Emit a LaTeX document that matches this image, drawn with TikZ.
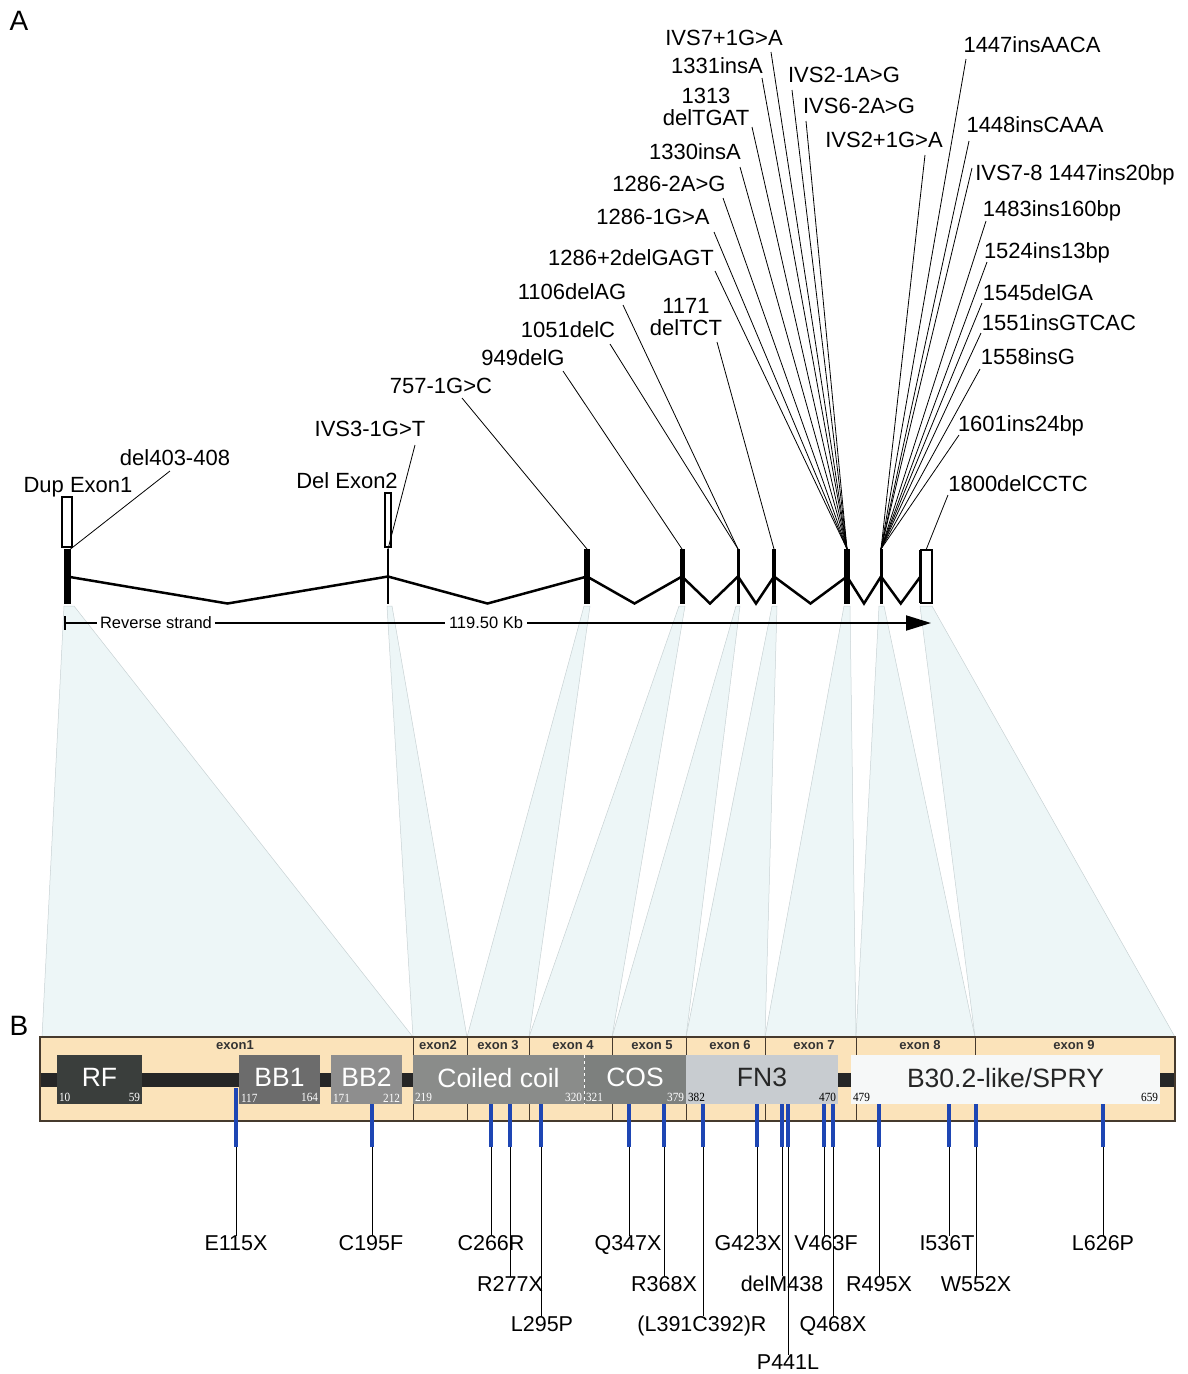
\documentclass[tikz,border=0pt]{standalone}
\usepackage{fontspec}
\setmainfont{Liberation Sans}
\newfontfamily\numfont[FakeStretch=0.9]{Liberation Serif}
\usetikzlibrary{arrows.meta,calc}
\definecolor{peach}{RGB}{251,227,186}
\definecolor{barline}{RGB}{70,58,45}
\definecolor{rfcol}{RGB}{58,62,60}
\definecolor{bbone}{RGB}{108,108,108}
\definecolor{bbtwo}{RGB}{142,142,142}
\definecolor{cccol}{RGB}{138,140,138}
\definecolor{coscol}{RGB}{125,128,126}
\definecolor{fncol}{RGB}{200,204,208}
\definecolor{sprycol}{RGB}{246,248,248}
\definecolor{mutblue}{RGB}{30,70,180}
\definecolor{funfill}{RGB}{237,246,247}
\definecolor{funline}{RGB}{200,210,212}

\begin{document}
\begin{tikzpicture}[x=1pt,y=-1pt,
  every node/.style={inner sep=0pt, outer sep=0pt},
  mut/.style={font=\fontsize{22}{22}\selectfont, align=center, text depth=0pt},
  plab/.style={font=\fontsize{21.5}{22}\selectfont, text depth=0pt},
  leader/.style={line width=0.8pt},
  exon/.style={fill=black, minimum height=55pt},
  openbox/.style={draw, line width=1.2pt, fill=white},
  dom/.style={minimum height=49pt},
  domlab/.style={font=\fontsize{26.5}{27}\selectfont, text depth=0pt, yshift=2pt},
  dnum/.style={font=\numfont\fontsize{12.5}{12}\selectfont},
  exlab/.style={font=\bfseries\fontsize{13}{13}\selectfont},
  funnel/.style={fill=funfill, draw=funline, line width=0.5pt}]
  \useasboundingbox (0,0) rectangle (1188,1374);

  \node[font=\fontsize{28}{28}\selectfont] (A) at (19,21) {A};
  \node[font=\fontsize{28}{28}\selectfont] (B) at (19,1026) {B};

  \foreach \a/\b/\c/\d in {64/74/42/413, 387/392/413/467, 584/590/467/529, 679/685/529/612,
      736/740/612/686, 772/777/686/765, 844/850/765/856, 879/884/856/975, 920/932/975/1175}
    \filldraw[funnel] (\a,606) -- (\b,606) -- (\d,1037) -- (\c,1037) -- cycle;

  \node[exon, minimum width=7pt] (ex1) at (67,576.5) {};
  \node[exon, minimum width=2.5pt] (ex2) at (388,576.5) {};
  \node[exon, minimum width=6pt] (ex3) at (587,576.5) {};
  \node[exon, minimum width=5pt] (ex4) at (682,576.5) {};
  \node[exon, minimum width=3pt] (ex5) at (738,576.5) {};
  \node[exon, minimum width=3.5pt] (ex6) at (774,576.5) {};
  \node[exon, minimum width=6pt] (ex7) at (847,576.5) {};
  \node[exon, minimum width=3pt] (ex8) at (881,576.5) {};
  \node[draw, line width=2pt, minimum width=11pt, minimum height=53pt] (ex9) at (926,576.5) {};
  \draw[line width=3.5pt] (ex9.north west) -- (ex9.south west);

  \foreach \a/\b in {1/2,2/3,3/4,4/5,5/6,6/7,7/8}
    \draw[line width=2.5pt, line join=miter] (ex\a.center) -- ($(ex\a.center)!.5!(ex\b.center)+(0,27)$) -- (ex\b.center);
  \draw[line width=2.5pt] (ex8.center) -- ($(ex8.center)!.5!(ex9.west)+(0,27)$) -- (ex9.west);

  \node[openbox, minimum width=10pt, minimum height=50pt] (dup1) at (67,522) {};
  \node[openbox, minimum width=6pt, minimum height=54pt] (del2) at (388,520) {};
  \node[mut] (dupl) at (78,485) {Dup Exon1};
  \node[mut] (dell) at (347,481) {Del Exon2};

  \foreach \n/\x/\y/\t/\sx/\sy/\e in {
      a/175/458/del403-408/170/471/ex1.north east,
      b/370/429/IVS3-1G>T/415/445/ex2.north,
      c/441/386/757-1G>C/462/398/ex3.north,
      d/523/358/949delG/563/371/ex4.north,
      e/568/330/1051delC/610/344/ex5.north,
      f/572/292/1106delAG/623/305/ex5.north,
      g/686/317/1171\\delTCT/717/342/ex6.north,
      h/631/258/1286+2delGAGT/715/271/ex7.north,
      i/653/217/1286-1G>A/714/232/ex7.north,
      j/669/184/1286-2A>G/723/198/ex7.north,
      k/695/152/1330insA/740/167/ex7.north,
      l/706/107/1313\\delTGAT/752/127/ex7.north,
      m/717/66/1331insA/762/78/ex7.north,
      n/724/38/IVS7+1G>A/771/52/ex7.north,
      o/844/75/IVS2-1A>G/792/90/ex7.north,
      p/859/106/IVS6-2A>G/806/121/ex7.north,
      q/884/140/IVS2+1G>A/925/155/ex8.north,
      r/1032/45/1447insAACA/966/59/ex8.north,
      s/1035/125/1448insCAAA/969/141/ex8.north,
      t/1075/173/IVS7-8 1447ins20bp/972/168/ex8.north,
      u/1052/209/1483ins160bp/986/221/ex8.north,
      v/1047/251/1524ins13bp/987/262/ex8.north,
      w/1038/293/1545delGA/982/303/ex8.north,
      x/1059/323/1551insGTCAC/981/333/ex8.north,
      y/1028/357/1558insG/980/369/ex8.north,
      z/1021/424/1601ins24bp/959/435/ex8.north,
      zz/1018/484/1800delCCTC/948/495/ex9.north}
  {
    \node[mut] (t\n) at (\x,\y) {\t};
    \coordinate (s\n) at (\sx,\sy);
    \draw[leader] (s\n) -- (\e);
  }

  \coordinate (sc0) at (65,623);
  \coordinate (sc1) at (931,623);
  \node[font=\fontsize{16.5}{16}\selectfont] (rs) at (156,623) {Reverse strand};
  \node[font=\fontsize{16.5}{16}\selectfont] (kb) at (486,623) {119.50 Kb};
  \draw[line width=2pt] ([yshift=7pt]sc0) -- ([yshift=-7pt]sc0);
  \draw[line width=2pt] (sc0) -- ([xshift=-3pt]rs.west);
  \draw[line width=2pt] ([xshift=3pt]rs.east) -- ([xshift=-4pt]kb.west);
  \draw[line width=2pt, -{Triangle[length=25pt,width=15pt]}] ([xshift=4pt]kb.east) -- (sc1);

  \node[draw=barline, line width=1.2pt, fill=peach, minimum width=1135pt, minimum height=84pt] (bar) at (607.5,1079) {};
  \foreach \x in {413,467,529,612,686,765,856,975}
    \draw[barline, line width=1pt] (\x,1037) -- (\x,1121);
  \foreach \x/\t in {235/exon1, 438/exon2, 498/exon 3, 573/exon 4, 652/exon 5, 730/exon 6, 814/exon 7, 920/exon 8, 1074/exon 9}
    \node[exlab, text=black!80] (el\x) at (\x,1045) {\t};
  \fill[black!85] (41,1073) rectangle (1174,1087);

  \foreach \n/\x in {1/236,2/372,3/491,4/510,5/541,6/629,7/664,8/703,9/757,10/782,11/788,12/824,13/833,14/879,15/949,16/976,17/1103}
  {
    \coordinate (b\n) at (\x,1088);
    \coordinate (m\n) at (\x,1147);
    \draw[mutblue, line width=4pt] (b\n) -- (m\n);
  }

  \foreach \d/\x/\w/\f/\c/\t in {rf/99.5/85/rfcol/white/RF, bb1/279.5/81/bbone/white/BB1, bb2/366.5/71/bbtwo/white/BB2,
      cc/498.5/171/cccol/white/Coiled coil, cos/635/102/coscol/white/COS, fn3/762/152/fncol/black!85/FN3,
      spry/1005.5/309/sprycol/black!85/{B30.2-like/SPRY}}
  {
    \node[dom, fill=\f, minimum width=\w pt] (\d) at (\x,1079.5) {};
    \node[domlab, text=\c] (\d t) at (\d.center) {\t};
  }
  \draw[white, dashed, line width=0.6pt] (cc.north east) -- (cc.south east);

  \foreach \d/\l/\r/\c in {rf/10/59/white, bb1/117/164/white, bb2/171/212/white, cc/219/320/white,
      cos/321/379/white, fn3/382/470/black, spry/479/659/black}
  {
    \node[dnum, text=\c, anchor=south west] (\d l) at ([xshift=2pt, yshift=2pt]\d.south west) {\l};
    \node[dnum, text=\c, anchor=south east] (\d r) at ([xshift=-2pt, yshift=2pt]\d.south east) {\r};
  }

  \foreach \n/\lx/\r/\t in {1/236/1243/E115X, 2/371/1243/C195F, 3/491/1243/C266R, 4/510/1284/R277X,
      5/542/1324/L295P, 6/628/1243/Q347X, 7/664/1284/R368X, 8/702/1324/(L391C392)R,
      9/748/1243/G423X, 10/782/1284/delM438, 11/788/1362/P441L, 12/826/1243/V463F,
      13/833/1324/Q468X, 14/879/1284/R495X, 15/947/1243/I536T, 16/976/1284/W552X, 17/1103/1243/L626P}
  {
    \node[plab] (l\n) at (\lx,\r) {\t};
    \draw[line width=1pt] (m\n) -- (l\n.north -| m\n);
  }
\end{tikzpicture}
\end{document}
